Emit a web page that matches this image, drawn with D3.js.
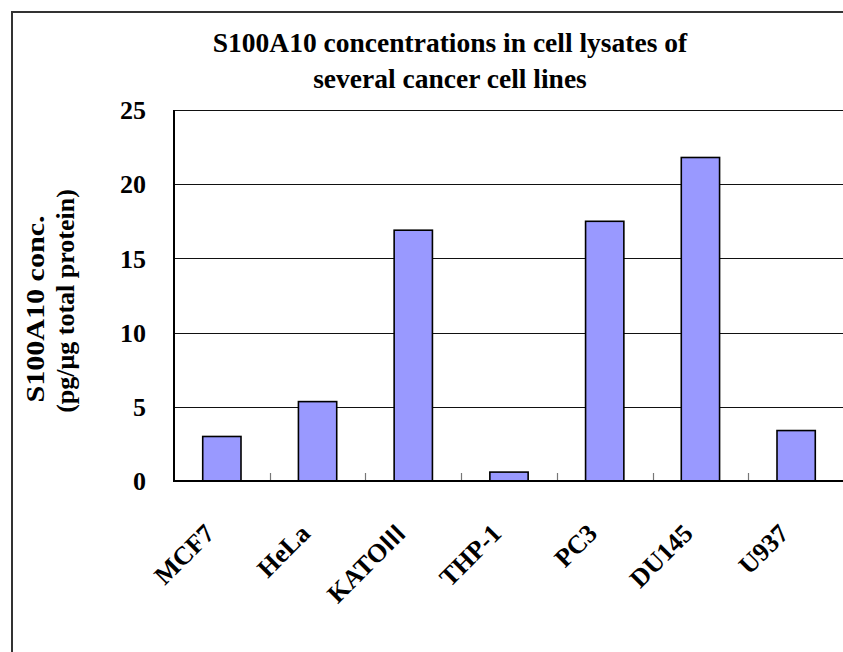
<!DOCTYPE html>
<html>
<head>
<meta charset="utf-8">
<script src="https://cdn.jsdelivr.net/npm/d3@7"></script>
<style>
  html, body { margin: 0; padding: 0; background: #fff; }
  svg { display: block; }
  text { font-family: "Liberation Serif", "Times New Roman", serif; font-weight: bold; fill: #000; }
</style>
</head>
<body>
<svg id="chart" width="843" height="652"></svg>
<script>
const categories = ["MCF7", "HeLa", "KATOⅢ", "THP-1", "PC3", "DU145", "U937"];
const values = [3.0, 5.35, 16.9, 0.6, 17.5, 21.8, 3.4];
const yTicks = [0, 5, 10, 15, 20, 25];
const titleLines = ["S100A10 concentrations in cell lysates of", "several cancer cell lines"];
const yLabelLines = ["S100A10 conc.", "(pg/μg total protein)"];

const svg = d3.select("#chart");
const W = 843, H = 652;
const plot = { left: 174, right: 844, top: 110, bottom: 481 };

svg.append("rect").attr("x", 0).attr("y", 0).attr("width", W).attr("height", H).attr("fill", "#fff");

// outer chart border (extends beyond the visible window)
svg.append("rect")
  .attr("x", 12).attr("y", 12).attr("width", 900).attr("height", 700)
  .attr("fill", "none").attr("stroke", "#333").attr("stroke-width", 2);

const x = d3.scaleBand().domain(categories).range([plot.left, plot.right]).paddingInner(0.6).paddingOuter(0.3);
const xb = d3.scaleBand().domain(categories).range([plot.left, plot.right]);
const y = d3.scaleLinear().domain([0, 25]).range([plot.bottom, plot.top]);

// gridlines
svg.append("g").selectAll("line").data(yTicks.filter(d => d > 0)).join("line")
  .attr("x1", plot.left).attr("x2", plot.right)
  .attr("y1", d => Math.round(y(d)) + 0.5).attr("y2", d => Math.round(y(d)) + 0.5)
  .attr("stroke", "#111").attr("stroke-width", 1.2);

// bars
svg.append("g").selectAll("rect").data(categories).join("rect")
  .attr("x", d => x(d))
  .attr("width", x.bandwidth())
  .attr("y", (d, i) => y(values[i]))
  .attr("height", (d, i) => plot.bottom - y(values[i]))
  .attr("fill", "#9999FF").attr("stroke", "#000").attr("stroke-width", 1.6);

// x axis inner tick marks between categories
svg.append("g").selectAll("line").data(categories.slice(1)).join("line")
  .attr("x1", d => Math.round(xb(d)) + 0.5).attr("x2", d => Math.round(xb(d)) + 0.5)
  .attr("y1", plot.bottom).attr("y2", plot.bottom - 8)
  .attr("stroke", "#777").attr("stroke-width", 1.2);

// axes lines
svg.append("line").attr("x1", plot.left).attr("x2", plot.left).attr("y1", plot.top).attr("y2", plot.bottom + 1)
  .attr("stroke", "#000").attr("stroke-width", 2);
svg.append("line").attr("x1", plot.left).attr("x2", plot.right).attr("y1", plot.bottom).attr("y2", plot.bottom)
  .attr("stroke", "#000").attr("stroke-width", 2);

// y tick labels
svg.append("g").selectAll("text").data(yTicks).join("text")
  .attr("x", 146).attr("y", d => y(d))
  .attr("dy", "0.35em")
  .attr("text-anchor", "end")
  .style("font-size", "26px")
  .text(d => d);

// x tick labels rotated -45 (roman numeral drawn with a CJK font like the original)
const xl = svg.append("g").selectAll("text").data(categories).join("text")
  .attr("transform", d => `translate(${xb(d) + xb.bandwidth() / 2 - 6},${plot.bottom + 54}) rotate(-45)`)
  .attr("text-anchor", "end")
  .style("font-size", "26px");
xl.each(function(d) {
  const t = d3.select(this);
  const parts = d.split(/(Ⅲ)/).filter(s => s.length);
  parts.forEach(p => {
    const ts = t.append("tspan").text(p);
    if (p === "Ⅲ") ts.style("font-family", '"Noto Sans CJK JP", sans-serif').style("font-size", "24px");
  });
});

// title
svg.append("g").selectAll("text").data(titleLines).join("text")
  .attr("x", 450).attr("y", (d, i) => 52 + i * 36)
  .attr("text-anchor", "middle")
  .style("font-size", "27.5px")
  .text(d => d);

// y axis label
svg.append("g").selectAll("text").data(yLabelLines).join("text")
  .attr("transform", (d, i) => `translate(${35 + i * 30},${i === 0 ? 309 : 301}) rotate(-90)`)
  .attr("text-anchor", "middle")
  .attr("dy", "0.35em")
  .attr("textLength", (d, i) => i === 0 ? 187 : null)
  .attr("lengthAdjust", "spacingAndGlyphs")
  .style("font-size", "26px")
  .text(d => d);
</script>
</body>
</html>
